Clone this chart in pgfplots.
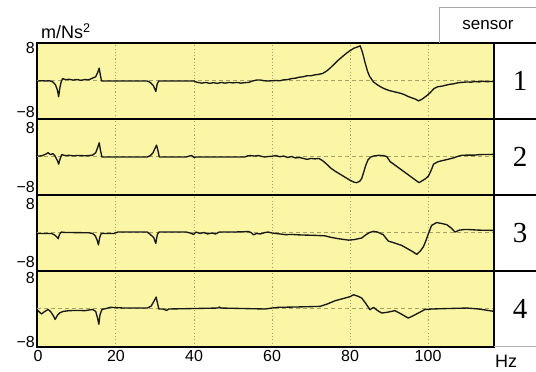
\documentclass[border=0pt]{standalone}
\usepackage{fontspec}
\setmainfont{Liberation Sans}
\newfontfamily\numfont{Liberation Serif}
\usepackage{pgfplots}
\pgfplotsset{compat=1.18}
\definecolor{bgyellow}{RGB}{250,246,165}
\definecolor{gridcol}{RGB}{165,160,100}
\definecolor{curvecol}{RGB}{25,25,25}
\pgfplotsset{
  panel/.style={
    width=457pt, height=76pt, scale only axis,
    xmin=-0.25, xmax=116.9, ymin=-8, ymax=8,
    axis background/.style={fill=bgyellow},
    axis line style={line width=1.3pt},
    xtick={20,40,60,80,100}, xticklabels={},
    yticklabels={−8,8},
    major tick length=0pt,
    xmajorgrids=true,
    x grid style={gridcol, line width=1pt, dash pattern=on 1.1pt off 2.2pt},
    y grid style={gridcol, line width=1pt, dash pattern=on 4pt off 3pt},
    extra y ticks={0}, extra y tick labels={},
    extra y tick style={grid=major, major tick length=0pt},
    tick label style={font=\fontsize{16}{16}\selectfont},
    yticklabel style={inner xsep=2pt, inner ysep=0pt},
    /pgf/number format/assume math mode=true,
    cycle list={{curvecol, mark=none}},
    every axis plot post/.append style={line width=1.35pt, line join=round},
  }
}
\begin{document}
\begin{tikzpicture}
\useasboundingbox (0,0) rectangle (536pt,372pt);
% panel 1
\begin{axis}[panel, at={(37pt,253pt)}, anchor=south west, ytick={-6.55,7.05}]
\addplot coordinates {(0,0)(1,0.05)(2,0)(3,0.05)(3.8,-0.2)(4.5,-0.8)(5,-2.0)(5.3,-3.3)(5.6,-1.5)(5.9,-0.3)(6.3,0.5)(7,0.3)(8,0.35)(9,0.2)(10,0.3)(11,0.15)(12,0.3)(13,0.25)(14,0.6)(14.8,0.9)(15.3,1.8)(15.7,2.7)(16.0,1.2)(16.3,0)(17,0)(28,0)(28.8,-0.3)(29.6,-1.0)(30.2,-2.2)(30.6,-0.5)(31,0)(40,0)(40.5,-0.2)(41,-0.3)(42,-0.45)(43,-0.3)(44,-0.5)(45,-0.35)(46,-0.5)(47,-0.3)(48,-0.45)(49,-0.3)(50,-0.4)(51,-0.3)(52,-0.45)(53,-0.35)(54,-0.3)(55,0)(56,0.2)(57,0.2)(58,0.05)(59,0)(60,0.05)(61,0.1)(62,0.05)(63,0.25)(64,0.3)(65,0.5)(66,0.6)(67,0.8)(68,0.9)(69,1.1)(70,1.1)(71,1.3)(72,1.4)(73,1.6)(74,2.1)(75,2.8)(76,3.6)(77,4.4)(78,5.1)(79,5.8)(80,6.4)(81,6.9)(82,7.2)(82.6,7.4)(83.2,6.0)(83.8,4.0)(84.5,2.0)(85,1.0)(86,-0.2)(87,-0.8)(88,-1.3)(89,-1.7)(90,-2.0)(91,-2.2)(92,-2.4)(93,-2.6)(94,-2.9)(95,-3.3)(96,-3.6)(97,-3.9)(97.5,-4.2)(98.5,-3.8)(99.5,-3.2)(100.5,-2.5)(101.5,-1.6)(102.5,-1.2)(103.5,-1.1)(104.5,-0.9)(105.5,-0.7)(106.5,-0.6)(107.5,-0.4)(108.5,-0.3)(110,-0.2)(111,-0.25)(112,-0.1)(113,-0.2)(114,-0.05)(115,-0.15)(116,-0.1)(117,-0.1)};
\end{axis}
% panel 2
\begin{axis}[panel, at={(37pt,177pt)}, anchor=south west, ytick={-6.4,6.2}]
\addplot coordinates {(0,0.2)(1,0.25)(2,0.6)(2.6,0.9)(3.2,0.5)(3.8,0.7)(4.4,0.2)(5.0,-0.8)(5.3,-1.5)(5.7,-0.3)(6.1,0.5)(7,0.3)(8,0.35)(9,0.25)(10,0.3)(11,0.3)(12,0.25)(13,0.3)(14,0.4)(14.8,0.9)(15.3,2.0)(15.7,3.0)(16.0,1.5)(16.4,0)(17,0)(28,0)(28.8,0.3)(29.5,0.9)(30.1,2.0)(30.4,2.5)(30.8,1.2)(31.1,0)(38,0)(38.8,0.2)(39.4,0.3)(40,-0.1)(40.5,0)(53,0)(53.8,0.25)(54.5,0.3)(55.5,0.2)(56.5,0.3)(57.5,0.1)(58.2,0)(59,0.1)(60,0.15)(61,0.3)(62,0.05)(63,0.2)(64,-0.1)(65,0.1)(66,-0.2)(67,-0.1)(68,-0.3)(69,-0.5)(70,-0.3)(71,-0.4)(72,-0.3)(73,-0.8)(74,-1.5)(75,-2.3)(76,-2.9)(77,-3.4)(78,-3.9)(79,-4.4)(80,-4.9)(81,-5.3)(81.7,-5.4)(82.5,-5.1)(83.0,-4.5)(83.5,-3.2)(84,-1.8)(84.6,-0.6)(85.3,0)(86,0.2)(87.3,0.35)(88.5,0.3)(89.4,0.1)(90.3,-1.0)(91,-1.4)(92,-2.0)(93,-2.6)(94,-3.2)(95,-3.8)(96,-4.4)(97,-5.0)(97.7,-5.4)(98.5,-5.0)(99.3,-4.6)(100.1,-4.0)(100.8,-2.8)(101.4,-1.5)(102.5,-1.0)(103.5,-0.8)(104.5,-0.6)(105.5,-0.4)(106.5,-0.2)(107.5,0.1)(108.6,0.35)(110,0.4)(112,0.4)(113,0.5)(116.9,0.55)};
\end{axis}
% panel 3
\begin{axis}[panel, at={(37pt,101pt)}, anchor=south west, ytick={-6.1,6.2}]
\addplot coordinates {(0,-0.1)(3.5,-0.1)(4.2,-0.4)(4.8,-0.8)(5.2,-1.2)(5.5,-0.3)(6.0,0.2)(7,0.1)(8,0.1)(13,0.05)(14,-0.1)(14.7,-0.6)(15.2,-1.6)(15.5,-2.5)(15.8,-1.0)(16.2,-0.1)(17,-0.1)(19.5,-0.1)(20.5,0.2)(28,0.2)(28.8,-0.3)(29.7,-1.0)(30.2,-2.2)(30.6,-0.3)(31,0.2)(38,0.2)(39,0)(39.9,-0.3)(40.5,0.2)(41.5,-0.1)(42.5,0.1)(43.5,-0.2)(44.5,0)(45.5,-0.2)(46.5,0.2)(50,0.2)(54,0.3)(54.6,0.1)(55.3,-0.4)(56,-0.1)(57,-0.2)(58.2,0.1)(59,0.2)(60,0)(61,-0.1)(62,-0.2)(63.4,-0.35)(65,-0.3)(67,-0.4)(69,-0.45)(71,-0.5)(73.6,-0.6)(75,-0.9)(77,-1.2)(79.6,-1.5)(81,-1.4)(83,-1.05)(84,-0.4)(85,0.1)(86,0.35)(87,0.2)(88.5,-0.35)(89.8,-1.7)(91,-2.0)(93.2,-2.6)(94.5,-3.2)(96,-3.9)(97.1,-4.5)(98,-3.8)(98.8,-2.9)(99.5,-1.5)(100.1,-0.1)(100.9,1.6)(102.2,2.2)(103.5,2.0)(104.8,1.75)(106,1.0)(106.9,0.2)(108,0.6)(109.5,0.75)(111,0.7)(113,0.6)(116.9,0.55)};
\end{axis}
% panel 4
\begin{axis}[panel, at={(37pt,25pt)}, anchor=south west, ytick={-6.95,6.45},
  xticklabels={20,40,60,80,100},
  extra x ticks={0}, extra x tick labels={0}, extra x tick style={grid=none, major tick length=0pt}]
\addplot coordinates {(0,-0.35)(0.9,-1.05)(1.6,-0.6)(2.6,-0.1)(3.3,-0.6)(4.0,-1.5)(4.4,-2.2)(5.0,-1.3)(5.6,-0.8)(6.5,-0.5)(8,-0.35)(10,-0.3)(12,-0.35)(14,-0.1)(14.8,-0.5)(15.3,-2.0)(15.6,-3.2)(15.9,-1.2)(16.4,-0.1)(17.5,0.1)(18.5,0.35)(20,0.3)(22,0.2)(28,0.2)(29,0.6)(29.7,1.6)(30.3,2.5)(30.7,1.0)(31.0,0)(32,0)(33,-0.3)(33.5,0)(40,0.1)(46,0.2)(46.5,0.4)(47,0.2)(58.2,0)(60,0.2)(61.6,0.35)(65,0.4)(70,0.5)(72.3,0.55)(74,1.0)(76.2,1.75)(78.7,2.3)(80,2.6)(80.9,3.0)(82,2.7)(83,2.3)(84,1.2)(85.1,-0.15)(86,0.35)(87,-0.3)(88.1,-0.85)(89.5,-0.7)(91.5,-0.35)(93,-1.0)(94.9,-1.9)(96,-1.5)(97.5,-0.85)(99.2,-0.1)(101,0)(105,0.1)(110,0.2)(113,0)(116.9,-0.5)};
\end{axis}
% right column
\draw[line width=1.3pt] (494pt,329pt) -- (536pt,329pt);
\draw[line width=1.3pt] (494pt,253pt) -- (536pt,253pt);
\draw[line width=1.3pt] (494pt,177pt) -- (536pt,177pt);
\draw[line width=1.3pt] (494pt,101pt) -- (536pt,101pt);
\draw[line width=1.8pt] (494pt,25pt) -- (494pt,329pt);
\draw[gray!60, line width=1pt] (494pt,25pt) -- (536pt,25pt);
\draw[gray!70, line width=0.8pt] (439pt,329pt) -- (439pt,365pt) -- (537pt,365pt);
\node[font=\fontsize{17}{17}\selectfont] at (488pt,347pt) {sensor};
\node[font=\numfont\fontsize{29}{29}\selectfont] at (520pt,291pt) {1};
\node[font=\numfont\fontsize{29}{29}\selectfont] at (520pt,215pt) {2};
\node[font=\numfont\fontsize{29}{29}\selectfont] at (520pt,139pt) {3};
\node[font=\numfont\fontsize{29}{29}\selectfont] at (520pt,63pt) {4};
\node[anchor=base west, inner sep=0pt, font=\fontsize{18}{18}\selectfont] at (41pt,333pt) {m/Ns\textsuperscript{2}};
\node[anchor=base west, inner sep=0pt, font=\fontsize{18}{18}\selectfont] at (495pt,4pt) {Hz};
\end{tikzpicture}
\end{document}
